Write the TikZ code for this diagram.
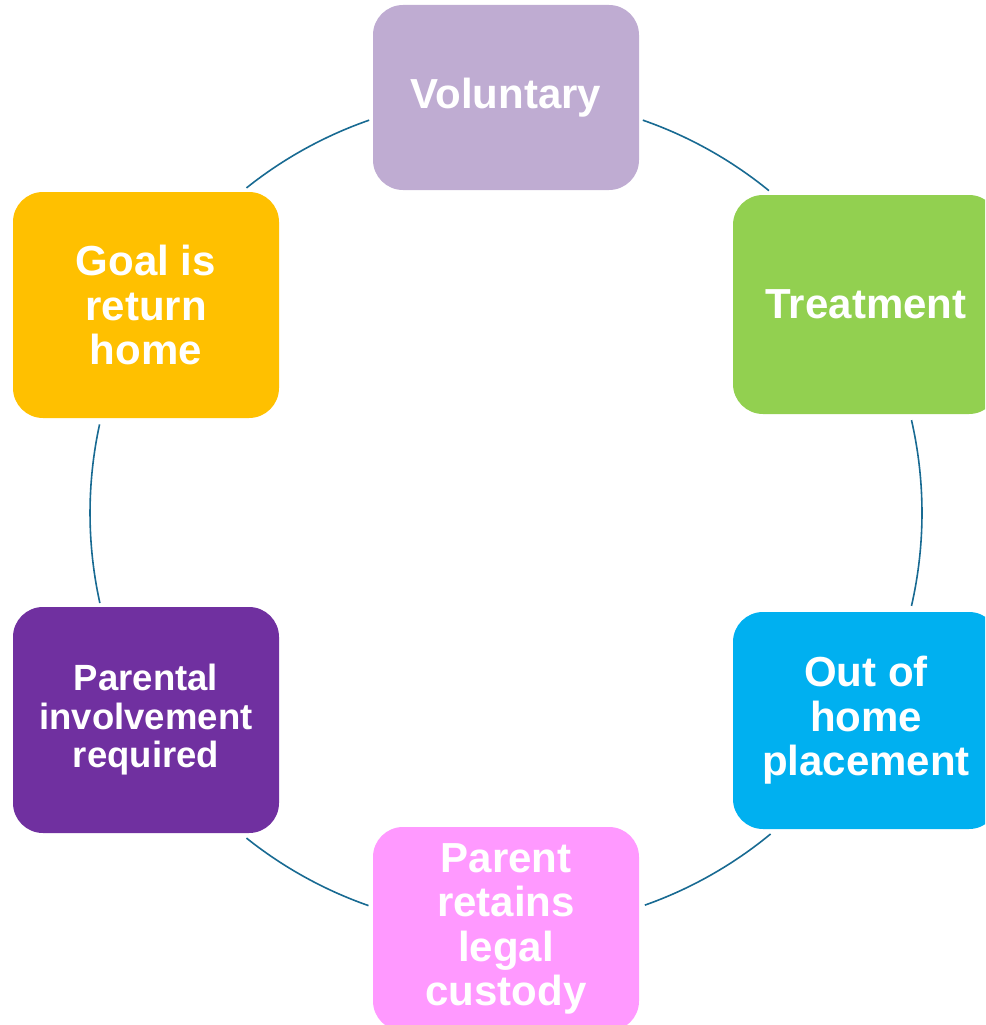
\documentclass[tikz,border=0pt]{standalone}
\usepackage{fontspec}
\setmainfont{Liberation Sans}
\definecolor{ringc}{RGB}{24,106,146}
\definecolor{cv}{RGB}{191,172,210}
\definecolor{ct}{RGB}{146,208,80}
\definecolor{co}{RGB}{0,176,240}
\definecolor{cp}{RGB}{255,153,255}
\definecolor{cq}{RGB}{112,48,160}
\definecolor{cg}{RGB}{255,192,0}
\begin{document}
\begin{tikzpicture}[x=1pt,y=-1pt,
  box/.style={rounded corners=30pt, minimum width=266pt, inner sep=0pt, align=center,
    text=white, font=\bfseries\fontsize{42}{44.5}\selectfont},
  smalltext/.style={font=\bfseries\fontsize{36.5}{38.5}\selectfont},
  ring/.style={draw=ringc, line width=1.6pt}]
\useasboundingbox (0,0) rectangle (985,1025);
\clip (0,0) rectangle (985,1025);
\coordinate (c) at (506,513);
% arcs of the ring
\draw[ring] ([shift={(-70.8:416)}]c) arc[start angle=-70.8, end angle=-50.8, radius=416];
\draw[ring] ([shift={(-12.9:416)}]c) arc[start angle=-12.9, end angle=12.9, radius=416];
\draw[ring] ([shift={(50.5:416)}]c) arc[start angle=50.5, end angle=70.5, radius=416];
\draw[ring] ([shift={(109.3:416)}]c) arc[start angle=109.3, end angle=128.6, radius=416];
\draw[ring] ([shift={(167.5:416)}]c) arc[start angle=167.5, end angle=192.3, radius=416];
\draw[ring] ([shift={(231.4:416)}]c) arc[start angle=231.4, end angle=250.8, radius=416];
% boxes
\node[box, fill=cv, minimum height=185pt] (v) at (506,97.5) {Voluntary};
\node[box, fill=ct, minimum height=219pt] (t) at (866,304.5) {Treatment};
\node[box, fill=co, minimum height=217pt] (o) at (866,720.5) {Out of\\home\\placement};
\node[box, fill=cp, minimum height=204pt] (p) at (506,929) {Parent\\retains\\legal\\custody};
\node[box, smalltext, fill=cq, minimum height=226pt] (q) at (146,720) {Parental\\involvement\\required};
\node[box, fill=cg, minimum height=226pt] (g) at (146,305) {Goal is\\return\\home};
\end{tikzpicture}
\end{document}
